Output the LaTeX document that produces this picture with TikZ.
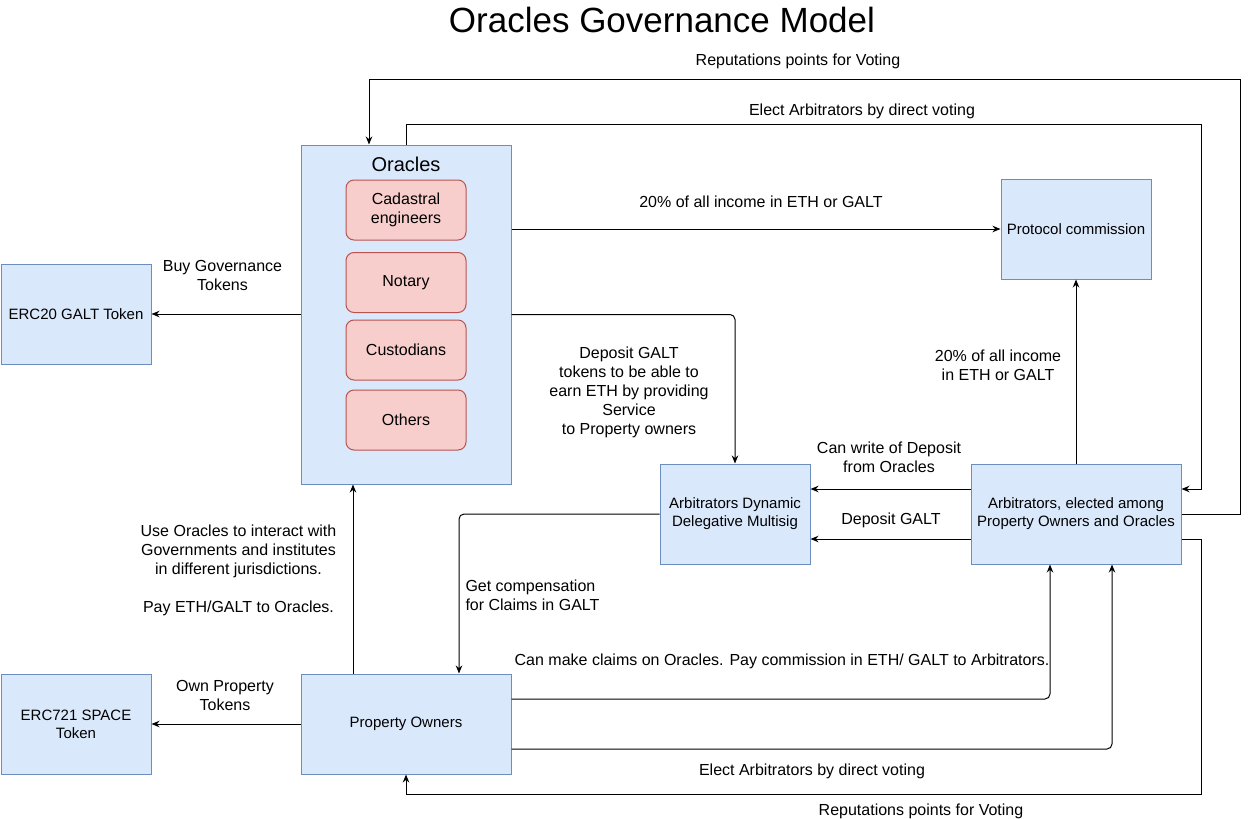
\documentclass[tikz,border=0pt]{standalone}
\usepackage{fontspec}
\setmainfont{Liberation Sans}
\usepackage{xcolor}
\usepackage{tikz}
\usetikzlibrary{arrows.meta}

\definecolor{blockfill}{HTML}{DAE8FC}
\definecolor{blockline}{HTML}{6C8EBF}
\definecolor{rolefill}{HTML}{F8CECC}
\definecolor{roleline}{HTML}{B85450}

\begin{document}
\begin{tikzpicture}[x=1pt, y=-1pt, line width=1pt,
  block/.style={draw=blockline, fill=blockfill, line width=1pt, align=center, inner sep=0pt,
    minimum width=150pt, minimum height=100pt, font=\fontsize{15}{18}\selectfont},
  role/.style={draw=roleline, fill=rolefill, line width=1pt, rounded corners=8pt, align=center,
    minimum width=120pt, minimum height=60pt, inner sep=0pt, font=\fontsize{16}{19}\selectfont},
  lbl/.style={align=center, inner sep=0pt, font=\fontsize{16}{19}\selectfont},
  arr/.style={-{Stealth[length=8pt, width=6.5pt]}, line width=1pt}]
 \useasboundingbox (0,0) rectangle (1250,819);
 \node[font=\fontsize{35}{40}\selectfont] (title) at (662,20) {Oracles Governance Model};
 % blocks
 \node[block, minimum width=210pt, minimum height=339pt] (oracles) at (406,314.5) {};
 \node[font=\fontsize{20}{24}\selectfont] (oraclestitle) at (406,164) {Oracles};
 \foreach \n/\y/\t in {cadastral/210/{Cadastral\\engineers}, notary/282.5/Notary, custodians/350/Custodians, others/420/Others}
  \node[role] (\n) at (406,\y) {\t};
 \node[block] (erctwenty) at (76,314) {ERC20 GALT Token};
 \node[block] (ercspace) at (76,724) {ERC721 SPACE\\Token};
 \node[block, minimum width=210pt] (owners) at (406,724) {Property Owners};
 \node[block] (protocol) at (1076,229) {Protocol commission};
 \node[block] (multisig) at (735,514) {Arbitrators Dynamic\\Delegative Multisig};
 \node[block, minimum width=210pt] (arbitrators) at (1076,514) {Arbitrators, elected among\\Property Owners and Oracles};
 % connectors
 \draw[arr] (arbitrators.east) -- (1240,514) -- (1240,79) -| ([xshift=-37pt]oracles.north);
 \draw[arr] (oracles.north) |- (1201,124) |- ([yshift=25pt]arbitrators.east);
 \draw[arr] (oracles.east |- protocol.west) -- (protocol.west);
 \draw[arr, rounded corners=5pt] (oracles.east) -| (multisig.north);
 \draw[arr] (arbitrators.north) -- (protocol.south);
 \draw[arr] ([yshift=25pt]arbitrators.west) -- ([yshift=25pt]multisig.east);
 \draw[arr] ([yshift=-25pt]arbitrators.west) -- ([yshift=-25pt]multisig.east);
 \draw[arr] (oracles.west |- erctwenty.east) -- (erctwenty.east);
 \draw[arr, rounded corners=5pt] (multisig.west) -| ([xshift=53pt]owners.north);
 \draw[arr] ([xshift=-53pt]owners.north) -- ([xshift=-53pt]oracles.south);
 \draw[arr] (owners.west) -- (ercspace.east);
 \draw[arr, rounded corners=5pt] ([yshift=25pt]owners.east) -| ([xshift=-26pt]arbitrators.south);
 \draw[arr, rounded corners=5pt] ([yshift=-25pt]owners.east) -| ([xshift=36pt]arbitrators.south);
 \draw[arr] ([yshift=-25pt]arbitrators.east) -| (1201,794) -| (owners.south);
 % labels
 \node[lbl] (reptop) at (798,61) {Reputations points for Voting};
 \node[lbl] (electtop) at (862,111) {Elect Arbitrators by direct voting};
 \node[lbl] (incomeoracles) at (761,202) {20\% of all income in ETH or GALT};
 \node[lbl] (deposittokens) at (629,392) {Deposit GALT\\tokens to be able to\\earn ETH by providing\\Service\\to Property owners};
 \node[lbl] (incomearb) at (998,365.5) {20\% of all income\\ in ETH or GALT};
 \node[lbl] (writeoff) at (889,457.5) {Can write of Deposit\\from Oracles};
 \node[lbl] (depositgalt) at (891,520) {Deposit GALT};
 \node[lbl] (buygov) at (222.5,275.5) {Buy Governance\\Tokens};
 \node[lbl, align=left, anchor=west] (compensation) at (465,595.5) {Get compensation\\for Claims in GALT};
 \node[lbl] (useoracles) at (238.5,570) {Use Oracles to interact with\\Governments and institutes\\ in different jurisdictions.\\[19pt]Pay ETH/GALT to Oracles.};
 \node[lbl] (ownprop) at (225,695.5) {Own Property\\Tokens};
 \node[lbl] (claims) at (782,661) {Can make claims on Oracles. Pay commission in ETH/ GALT to Arbitrators.};
 \node[lbl] (electbottom) at (812,771) {Elect Arbitrators by direct voting};
 \node[lbl] (repbottom) at (921,811) {Reputations points for Voting};
\end{tikzpicture}
\end{document}
